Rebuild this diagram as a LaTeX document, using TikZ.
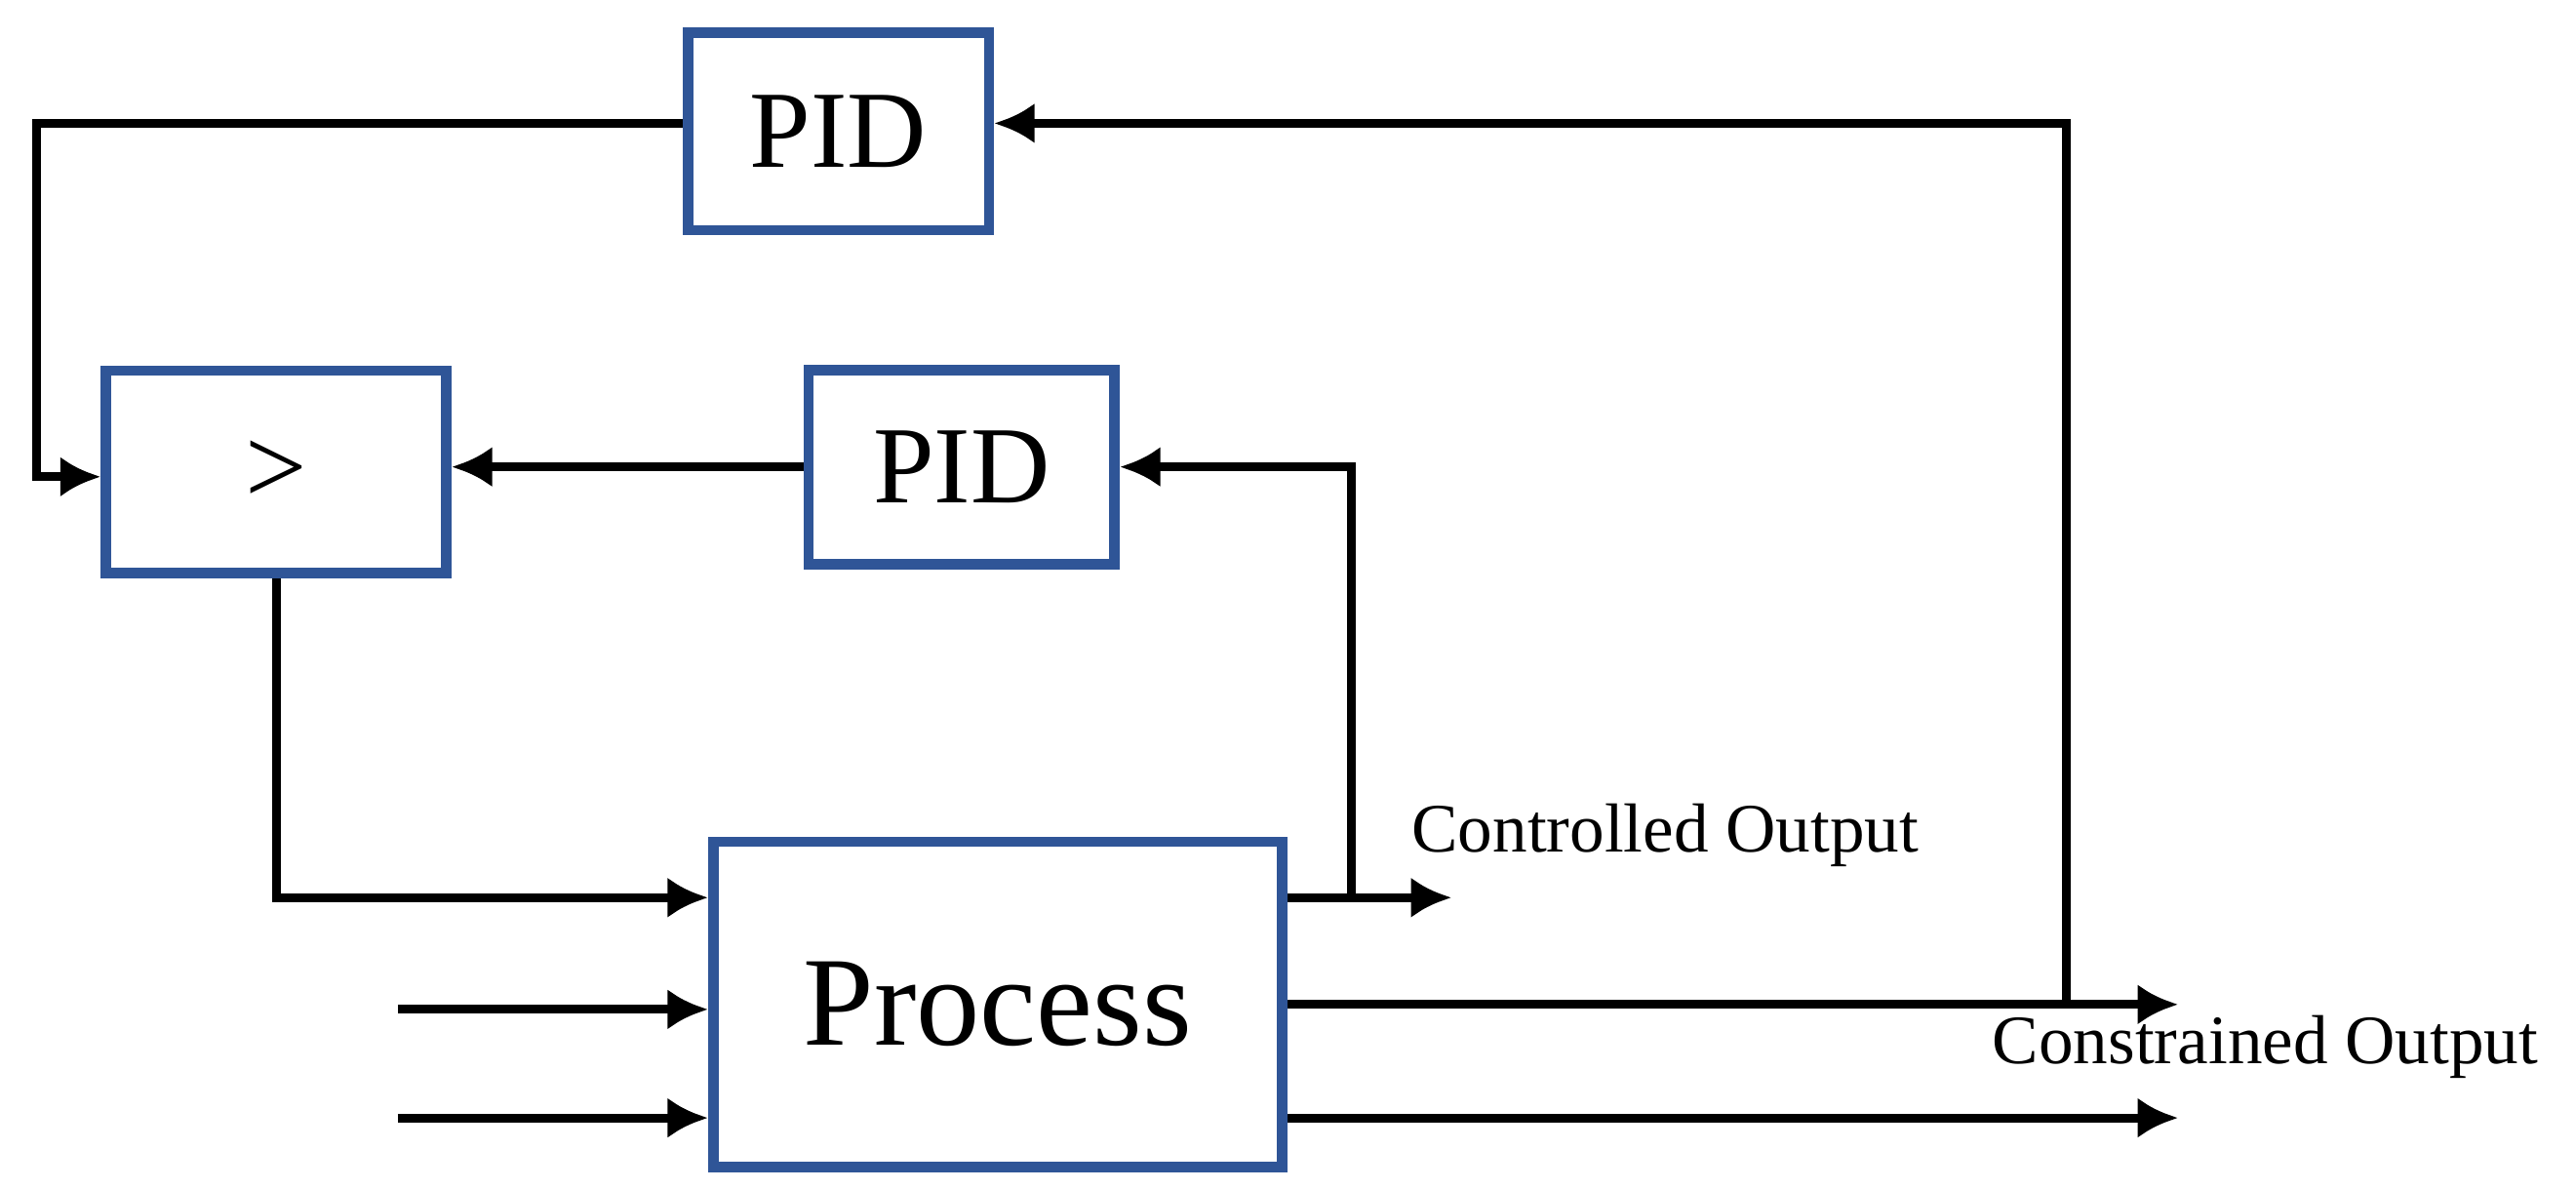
\documentclass[tikz,border=0pt]{standalone}
\usepackage{fontspec}
\setmainfont{Liberation Serif}
\usetikzlibrary{arrows.meta}
\definecolor{boxblue}{RGB}{47,85,151}
\tikzset{
  blk/.style={draw=boxblue,line width=1.8pt,fill=white,inner sep=0pt},
  wire/.style={line width=1.5pt,-{Latex[length=7pt,width=7pt]}},
  lbl/.style={font=\fontsize{12}{14}\selectfont,inner sep=0pt}
}
\begin{document}
\begin{tikzpicture}[x=0.01cm,y=-0.01cm]
\useasboundingbox (0,0) rectangle (1567,723);
% blocks
\node[blk,minimum width=1.83cm,minimum height=1.2cm,font=\fontsize{19}{22}\selectfont] (pidtop) at (510,80) {PID};
\node[blk,minimum width=2.07cm,minimum height=1.23cm,font=\fontsize{19}{22}\selectfont] (sel) at (168,287) {>};
\node[blk,minimum width=1.86cm,minimum height=1.18cm,font=\fontsize{19}{22}\selectfont] (pidmid) at (585,284) {PID};
\node[blk,minimum width=3.46cm,minimum height=1.98cm,font=\fontsize{22}{26}\selectfont] (proc) at (607,611) {Process};
% free ends
\coordinate (in1) at (242,614);
\coordinate (in2) at (242,680);
\coordinate (co) at (883,546);
\coordinate (cn) at (1325,611);
\coordinate (o3) at (1325,680);
\coordinate (b1) at (822,546);
\coordinate (b2) at (1257,611);
% connections
\draw[wire] (pidtop.west |- 0,75) -| (22,290) -- (sel.west |- 0,290);
\draw[wire] (pidmid.west) -- (sel.east |- pidmid.west);
\draw[wire] (sel.south) |- (proc.west |- 0,546);
\draw[wire] (in1) -- (proc.west |- in1);
\draw[wire] (in2) -- (proc.west |- in2);
\draw[wire] (proc.east |- co) -- (co);
\draw[wire] (proc.east |- cn) -- (cn);
\draw[wire] (proc.east |- o3) -- (o3);
\draw[wire] (b1) |- (pidmid.east);
\draw[wire] (b2) |- (pidtop.east |- 0,75);
% labels
\node[lbl] (lco) at (1013,508) {Controlled Output};
\node[lbl] (lcn) at (1378,637) {Constrained Output};
\end{tikzpicture}
\end{document}
